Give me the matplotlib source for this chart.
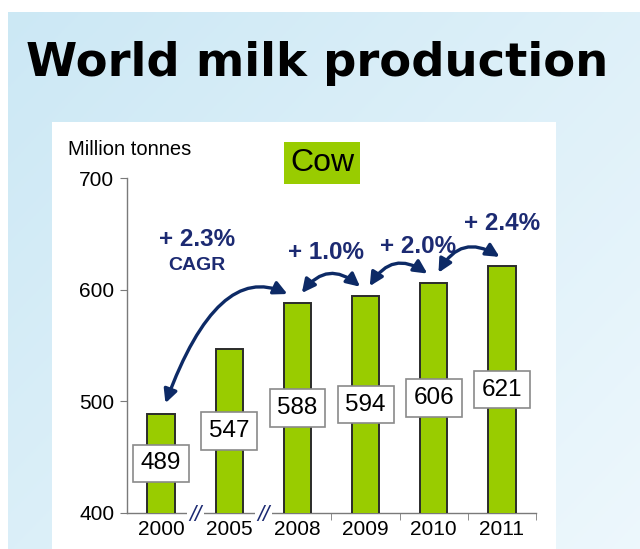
import numpy as np
import matplotlib
matplotlib.use("Agg")
import matplotlib.pyplot as plt
from matplotlib.patches import Rectangle

# ---- data ----
years = ["2000", "2005", "2008", "2009", "2010", "2011"]
production = [489, 547, 588, 594, 606, 621]
growth_labels = ["+ 1.0%", "+ 2.0%", "+ 2.4%"]
cagr_label = "+ 2.3%"

NAVY = "#1c2a72"
ARROW = "#0d2a66"
GREEN = "#99cc00"

fig = plt.figure(figsize=(6.4, 5.49), dpi=100)

# ---- background (pixel coords) ----
bg = fig.add_axes([0, 0, 1, 1])
bg.axis("off")
gx = np.linspace(0, 1, 200)
gy = np.linspace(0, 1, 200)
GX, GY = np.meshgrid(gx, gy)
t = np.clip(0.55 * GX + 0.45 * GY, 0, 1)
c0 = np.array([0.80, 0.91, 0.96])
c1 = np.array([0.93, 0.97, 0.99])
img = c0[None, None, :] * (1 - t[..., None]) + c1[None, None, :] * t[..., None]
bg.imshow(img, extent=[8, 640, 549, 12], aspect="auto", zorder=0)
bg.add_patch(Rectangle((52, 122), 504, 430, facecolor="white", edgecolor="none", zorder=1))
bg.set_xlim(0, 640)
bg.set_ylim(549, 0)

fig.text(26 / 640, 1 - 76 / 549, "World milk production", fontsize=33.5,
         fontweight="bold", family="DejaVu Sans", color="black",
         ha="left", va="baseline")

# ---- chart ----
ax = fig.add_axes([127 / 640, 1 - 513 / 549, (536 - 127) / 640, (513 - 178) / 549])
ax.patch.set_alpha(0)
x = np.arange(len(years))
ax.bar(x, production, width=0.4, bottom=0, color=GREEN, edgecolor="#2b2b2b",
       linewidth=1.4, zorder=3)
ax.set_xlim(-0.5, len(years) - 0.5)
ax.set_ylim(400, 700)
ax.set_yticks([400, 500, 600, 700])

for s in ["top", "right"]:
    ax.spines[s].set_visible(False)
for s in ["left", "bottom"]:
    ax.spines[s].set_color("#7a7a7a")
    ax.spines[s].set_linewidth(1.0)

ax.tick_params(axis="y", direction="out", length=5, color="#7a7a7a",
               labelsize=15, pad=4)
ax.set_xticks(x)
ax.set_xticklabels(years)
ax.tick_params(axis="x", length=0, labelsize=15, pad=5)
ax.set_xticks(np.arange(2.5, len(years), 1.0), minor=True)
ax.tick_params(axis="x", which="minor", direction="out", length=5, color="#7a7a7a")
for lab in ax.get_xticklabels() + ax.get_yticklabels():
    lab.set_family("Liberation Sans")

# value boxes at half bar height
for xi, v in zip(x, production):
    ax.text(xi, 400 + (v - 400) / 2, str(v), ha="center", va="center",
            fontsize=17.5, family="Liberation Sans", zorder=5,
            bbox=dict(boxstyle="square,pad=0.32", facecolor="white",
                      edgecolor="#8a8a8a", linewidth=1.2))

# axis break marks
for bx in [0.5, 1.5]:
    ax.text(bx, 398, "//", ha="center", va="center", fontsize=16, style="italic",
            family="Liberation Sans", color=NAVY, zorder=6, clip_on=False,
            bbox=dict(boxstyle="square,pad=0.1", facecolor="white", edgecolor="none"))

# arrows
gap = 7
astyle = "<|-|>,head_length=0.8,head_width=0.4"
ax.annotate("", xy=(1.89, production[2] + gap), xytext=(0.05, production[0] + gap),
            arrowprops=dict(arrowstyle=astyle, color=ARROW, lw=2.4,
                            connectionstyle="angle3,angleA=70,angleB=153"),
            zorder=7)
pairs = [(2, 3), (3, 4), (4, 5)]
starts = [2.04, 3.04, 4.05]
ends = [2.95, 3.94, 5.0]
for (a, b), sx, ex in zip(pairs, starts, ends):
    ax.annotate("", xy=(ex, production[b] + gap), xytext=(sx, production[a] + gap),
                arrowprops=dict(arrowstyle=astyle, color=ARROW, lw=2.4,
                                connectionstyle="arc3,rad=-0.55"),
                zorder=7)

ax.text(0.53, 645, cagr_label, ha="center", va="center", fontsize=17.5,
        fontweight="bold", family="Liberation Sans", color=NAVY)
ax.text(0.53, 622, "CAGR", ha="center", va="center", fontsize=14,
        fontweight="bold", family="Liberation Sans", color=NAVY)
label_pos = [(2.42, 633), (3.77, 639), (5.0, 659)]
for (lx, ly), g in zip(label_pos, growth_labels):
    ax.text(lx, ly, g, ha="center", va="center", fontsize=17.5,
            fontweight="bold", family="Liberation Sans", color=NAVY)

# unit and legend box
fig.text(68 / 640, 1 - 155 / 549, "Million tonnes", fontsize=14.5,
         family="Liberation Sans", ha="left", va="baseline")
fig.text(322 / 640, 1 - 163 / 549, "Cow", fontsize=23, family="Liberation Sans",
         ha="center", va="center",
         bbox=dict(boxstyle="square,pad=0.18", facecolor=GREEN, edgecolor="none"))

fig.savefig("out.png", dpi=100)
